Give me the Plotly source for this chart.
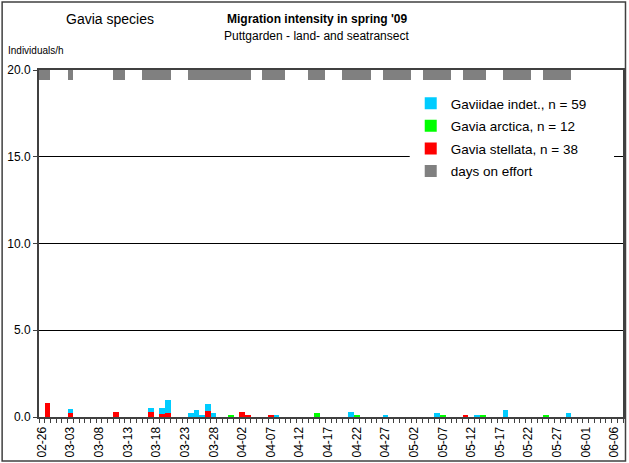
import pandas as pd
import plotly.graph_objects as go

# ---- data -------------------------------------------------------------
SEASON_START = "2009-02-26"
SEASON_END = "2009-06-07"

# Gavia stellata (red), individuals per hour
stellata_days = ["02-27", "03-03", "03-11", "03-17", "03-19", "03-20",
                 "03-27", "04-02", "04-03", "04-07", "05-11"]
stellata_rate = [0.83, 0.21, 0.31, 0.29, 0.19, 0.23,
                 0.35, 0.31, 0.12, 0.12, 0.12]

# Gavia arctica (green)
arctica_days = ["03-31", "04-15", "04-22", "05-07", "05-14", "05-25"]
arctica_rate = [0.12, 0.25, 0.12, 0.12, 0.12, 0.12]

# Gaviidae indet. (cyan)
indet_days = ["03-03", "03-17", "03-19", "03-20", "03-24", "03-25", "03-26",
              "03-27", "03-28", "04-08", "04-21", "04-27", "05-06", "05-13",
              "05-18", "05-29"]
indet_rate = [0.23, 0.23, 0.33, 0.75, 0.23, 0.40, 0.12,
              0.40, 0.23, 0.12, 0.31, 0.12, 0.25, 0.12,
              0.42, 0.25]

# days on effort, as (first day, last day) periods
effort_periods = [("02-26", "02-27"), ("03-03", "03-03"), ("03-11", "03-12"),
                  ("03-16", "03-20"), ("03-24", "04-03"), ("04-06", "04-09"),
                  ("04-14", "04-16"), ("04-20", "04-24"), ("04-27", "05-01"),
                  ("05-04", "05-08"), ("05-11", "05-14"), ("05-18", "05-22"),
                  ("05-25", "05-29")]

series_names = ["Gaviidae indet., n = 59", "Gavia arctica, n = 12",
                "Gavia stellata, n = 38", "days on effort"]
series_colors = ["#00CCFF", "#00FF00", "#FF0000", "#808080"]

# ---- helpers ----------------------------------------------------------
days = pd.date_range(SEASON_START, SEASON_END, freq="D")
DAY_MS = 86400000


def full_series(obs_days, rates):
    lookup = {pd.Timestamp(f"2009-{d}"): r for d, r in zip(obs_days, rates)}
    return [lookup.get(d, 0.0) for d in days]


effort_days = []
for a, b in effort_periods:
    effort_days += list(pd.date_range(f"2009-{a}", f"2009-{b}", freq="D"))

W, H = 629, 463
ML, MR, MT, MB = 39, 4, 70, 46
PW, PH = W - ML - MR, H - MT - MB


def px(x):
    return (x - ML) / PW


def py(y):
    return (H - MB - y) / PH


FONT = "Arial, Liberation Sans, sans-serif"

# ---- figure -----------------------------------------------------------
fig = go.Figure()

for obs, rates, name, color, rank in [
    (stellata_days, stellata_rate, series_names[2], series_colors[2], 3),
    (arctica_days, arctica_rate, series_names[1], series_colors[1], 2),
    (indet_days, indet_rate, series_names[0], series_colors[0], 1),
]:
    fig.add_bar(x=days, y=full_series(obs, rates), name=name,
                marker=dict(color=color, line=dict(width=0)),
                width=DAY_MS, legendrank=rank, legendgroup=name)

# effort strip along the top of the value axis
fig.add_bar(x=effort_days, y=[0.55] * len(effort_days), base=19.45,
            name=series_names[3], marker=dict(color=series_colors[3], line=dict(width=0)),
            width=DAY_MS, legendrank=4, legendgroup=series_names[3])

fig.update_layout(
    width=W, height=H,
    margin=dict(l=ML, r=MR, t=MT, b=MB, pad=0),
    paper_bgcolor="white", plot_bgcolor="white",
    barmode="stack", bargap=0,
    font=dict(family=FONT, color="black", size=12),
    showlegend=True,
    legend=dict(x=px(412), y=py(88), xanchor="left", yanchor="top",
                bgcolor="white", borderwidth=0,
                font=dict(size=13.5, family=FONT),
                traceorder="grouped", tracegroupgap=2,
                itemclick=False),
)

fig.update_xaxes(
    type="date",
    range=[days[0] - pd.Timedelta(hours=12), days[-1] + pd.Timedelta(hours=12)],
    tick0=SEASON_START, dtick=5 * DAY_MS, tickformat="%m-%d",
    tickangle=-90, tickfont=dict(size=12),
    ticks="outside", ticklen=3, tickcolor="rgba(0,0,0,0)",
    minor=dict(ticks="outside", ticklen=4, tickcolor="#404040", tickwidth=1,
               tick0=str(days[0] - pd.Timedelta(hours=12)), dtick=DAY_MS,
               showgrid=False),
    showgrid=False, zeroline=False,
    showline=True, linecolor="#404040", linewidth=2, mirror=True,
)

fig.update_yaxes(
    range=[0, 20], tick0=0, dtick=5, tickformat=".1f",
    tickfont=dict(size=12),
    ticks="outside", ticklen=4, tickcolor="#404040",
    showgrid=True, gridcolor="black", gridwidth=1, zeroline=False,
    showline=True, linecolor="#404040", linewidth=2, mirror=True,
)

# white backing panel for the legend box
fig.add_shape(type="rect", xref="paper", yref="paper",
              x0=px(411), x1=px(616), y0=py(186), y1=py(88),
              line=dict(width=0), fillcolor="white", layer="above")

# titles and axis caption
fig.add_annotation(text="Gavia species", x=px(110), y=py(19), xref="paper", yref="paper",
                   showarrow=False, xanchor="center", yanchor="middle",
                   font=dict(size=14, family=FONT))
fig.add_annotation(text="<b>Migration intensity in spring '09</b>", x=px(318), y=py(19),
                   xref="paper", yref="paper", showarrow=False,
                   xanchor="center", yanchor="middle", font=dict(size=12, family=FONT))
fig.add_annotation(text="Puttgarden - land- and seatransect", x=px(317), y=py(36),
                   xref="paper", yref="paper", showarrow=False,
                   xanchor="center", yanchor="middle", font=dict(size=12, family=FONT))
fig.add_annotation(text="Individuals/h", x=px(6), y=py(50), xref="paper", yref="paper",
                   showarrow=False, xanchor="left", yanchor="middle",
                   font=dict(size=10, family=FONT))

# chart frame
fig.add_shape(type="rect", xref="paper", yref="paper",
              x0=px(2), x1=px(627.5), y0=py(461), y1=py(2),
              line=dict(color="#404040", width=1.5), fillcolor="rgba(0,0,0,0)")

fig.write_html("out.html")
